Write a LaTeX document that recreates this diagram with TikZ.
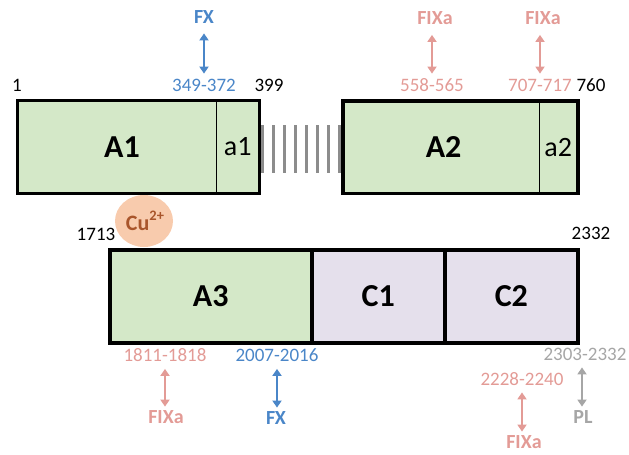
\documentclass[tikz,border=0pt]{standalone}
\usepackage{fontspec}
\setmainfont{Carlito}
\usetikzlibrary{arrows.meta,shapes.geometric}
\definecolor{boxgreen}{HTML}{D4E8C8}
\definecolor{boxpurple}{HTML}{E5E0EC}
\definecolor{fxblue}{HTML}{4A86C8}
\definecolor{fixpink}{HTML}{E39B96}
\definecolor{plgrey}{HTML}{A6A6A6}
\definecolor{hatchgrey}{HTML}{8C8C8C}
\definecolor{cufill}{HTML}{F8CBAD}
\definecolor{cutext}{HTML}{A9552B}
\begin{document}
\begin{tikzpicture}[x=1pt,y=-1pt,
  lbl/.style={inner sep=0pt, text height=0.64em, text depth=0pt},
  num/.style={lbl, font=\fontsize{19}{19}\selectfont},
  fac/.style={lbl, font=\bfseries\fontsize{20}{20}\selectfont},
  dombox/.style={rectangle, draw=black, line width=3.6pt, inner sep=0pt, font=\bfseries\fontsize{32}{32}\selectfont},
  mainpart/.style={rectangle, draw=black, line width=1.5pt, fill=boxgreen, inner sep=0pt, font=\bfseries\fontsize{32}{32}\selectfont},
  subpart/.style={rectangle, draw=black, line width=1.5pt, fill=boxgreen, inner sep=0pt, font=\fontsize{28}{28}\selectfont},
  thickframe/.style={draw=black, line width=3.6pt},
  hatchline/.style={draw=hatchgrey, line width=3pt},
  dblarrow/.style={{Triangle[width=9pt,length=7pt]}-{Triangle[width=9pt,length=7pt]}, line width=2.5pt},
  toparrow/.style={dblarrow, shorten <=11pt, shorten >=10pt},
  botarrow/.style={dblarrow, shorten <=7pt, shorten >=10pt},
]
\useasboundingbox (0,0) rectangle (629,455);

% linker hatch
\foreach \i in {0,...,7}{
  \draw[hatchline] ({262+11*\i},125) -- ({262+11*\i},173);
}

% Cu ion
\node[ellipse, fill=cufill, minimum width=58pt, minimum height=52pt, inner sep=0pt,
      text=cutext, font=\bfseries\fontsize{22}{22}\selectfont] (cu) at (144,221)
  {\hspace{2pt}Cu\raisebox{10pt}{\fontsize{14.5}{14.5}\selectfont 2+}};

% A1 domain
\node[mainpart, minimum width=199.5pt, minimum height=91.5pt] (A1) at (117.95,147.05) {\hspace{8pt}A1};
\node[subpart, minimum width=42pt, minimum height=91.5pt] (a1) at (237.7,147.05) {a1};
\draw[thickframe] (A1.north west) rectangle (a1.south east);

% A2 domain
\node[mainpart, minimum width=195.5pt, minimum height=90.8pt] (A2) at (441.55,147.4) {\hspace{4pt}A2};
\node[subpart, minimum width=37.9pt, minimum height=90.8pt] (a2) at (558.25,147.4) {a2};
\draw[thickframe] (A2.north west) rectangle (a2.south east);

% A3, C1, C2
\node[dombox, fill=boxgreen, minimum width=202pt, minimum height=93pt] (A3) at (210.7,296.3) {A3\hspace{7pt}};
\node[dombox, fill=boxpurple, minimum width=133pt, minimum height=93pt] (C1) at (378.2,296.3) {C1\hspace{4pt}};
\node[dombox, fill=boxpurple, minimum width=133.3pt, minimum height=93pt] (C2) at (511.35,296.3) {C2\hspace{8pt}};

% top numbers
\node[num] (n1) at (17,88) {1};
\node[num, text=fxblue] (r349) at (204,88) {349-372};
\node[num] (n399) at (269,88) {399};
\node[num, text=fixpink] (r558) at (432,88) {558-565};
\node[num, text=fixpink] (r707) at (540,88) {707-717};
\node[num] (n760) at (591,88) {760};

% top factors
\node[fac, text=fxblue] (fxA) at (204,20) {FX};
\node[fac, text=fixpink] (fixA) at (435,21.5) {FIXa};
\node[fac, text=fixpink] (fixB) at (543,21.5) {FIXa};

\draw[toparrow, draw=fxblue, fill=fxblue] (r349.north) -- (r349.north |- fxA.south);
\draw[toparrow, draw=fixpink, fill=fixpink] (r558.north) -- (r558.north |- fixA.south);
\draw[toparrow, draw=fixpink, fill=fixpink] (r707.north) -- (r707.north |- fixB.south);

% bottom numbers
\node[num] (n1713) at (96,237.5) {1713};
\node[num] (n2332) at (591,236) {2332};
\node[num, text=fixpink] (r1811) at (165,358.5) {1811-1818};
\node[num, text=fxblue] (r2007) at (277,358.5) {2007-2016};
\node[num, text=fixpink] (r2228) at (522,382) {2228-2240};
\node[num, text=plgrey] (r2303) at (585,357) {2303-2332};

% bottom factors
\node[fac, text=fixpink] (fixC) at (166,420) {FIXa};
\node[fac, text=fxblue] (fxB) at (276,421) {FX};
\node[fac, text=fixpink] (fixD) at (524,445) {FIXa};
\node[fac, text=plgrey] (pl) at (583,420) {PL};

\draw[botarrow, draw=fixpink, fill=fixpink] (r1811.south) -- (r1811.south |- fixC.north);
\draw[botarrow, draw=fxblue, fill=fxblue] (r2007.south) -- (r2007.south |- fxB.north);
\draw[botarrow, draw=fixpink, fill=fixpink] (r2228.south) -- (r2228.south |- fixD.north);
\draw[botarrow, draw=plgrey, fill=plgrey] ([xshift=-3pt]r2303.south) -- ([xshift=-3pt]r2303.south |- pl.north);
\end{tikzpicture}
\end{document}
